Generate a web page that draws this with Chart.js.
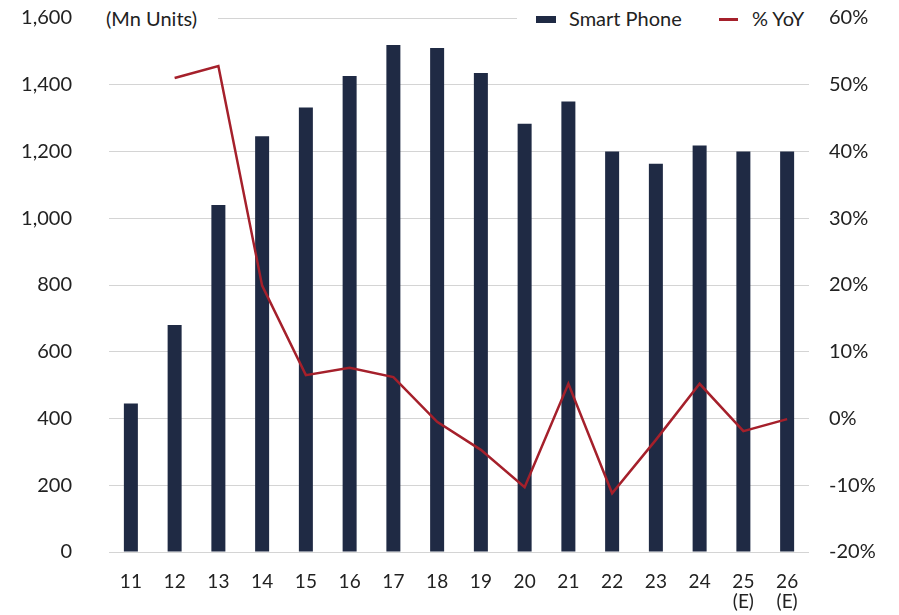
<!DOCTYPE html>
<html>
<head>
<meta charset="utf-8">
<script src="https://cdn.jsdelivr.net/npm/chart.js@4.4.1/dist/chart.umd.min.js"></script>
<style>
  body { margin: 0; background: #fff; font-family: Lato, "Noto Sans", sans-serif; }
  .wrap { position: relative; width: 899px; height: 615px; }
  .unit { position: absolute; left: 100px; top: 5px; width: 118px; height: 26px; background: #fff;
          font-size: 20px; color: #222; padding-left: 6px; box-sizing: border-box; line-height: 26px; }
  .legend { position: absolute; left: 517px; top: 5px; width: 300px; height: 26px; background: #fff;
            font-size: 20px; color: #222; line-height: 26px; }
  .legend .box { position: absolute; left: 19px; top: 11px; width: 20px; height: 7px; background: #1f2a44; }
  .legend .ln { position: absolute; left: 202px; top: 13px; width: 19px; height: 3px; background: #a5202b; }
  .legend .t1 { position: absolute; left: 52px; top: 0; }
  .legend .t2 { position: absolute; left: 235px; top: 0; }
</style>
</head>
<body>
<div class="wrap">
  <canvas id="myChart"></canvas>
  <div class="unit">(Mn Units)</div>
  <div class="legend">
    <span class="box"></span><span class="t1">Smart Phone</span>
    <span class="ln"></span><span class="t2">% YoY</span>
  </div>
</div>
<script>
/* Data */
const years = ['11', '12', '13', '14', '15', '16', '17', '18', '19', '20', '21', '22', '23', '24', ['25', '(E)'], ['26', '(E)']];
const smartPhone = [445, 680, 1040, 1246, 1332, 1426, 1519, 1510, 1435, 1283, 1350, 1200, 1163, 1218, 1200, 1200];
const yoy = [null, 51.0, 52.8, 19.9, 6.5, 7.6, 6.2, -0.5, -4.7, -10.3, 5.2, -11.2, -3.2, 5.2, -1.9, -0.1];

const navy = '#1f2a44';
const red = '#a5202b';
const font = { family: 'Lato, "Noto Sans", sans-serif', size: 20 };

var ctx = document.getElementById('myChart').getContext('2d');

var chart = new Chart(ctx, {
  data: {
    labels: years,
    datasets: [{
      type: 'line',
      label: '% YoY',
      data: yoy,
      yAxisID: 'y1',
      borderColor: red,
      borderWidth: 2.5,
      pointRadius: 0,
      tension: 0,
      order: 0,
    },
    {
      type: 'bar',
      label: 'Smart Phone',
      data: smartPhone,
      yAxisID: 'y',
      backgroundColor: navy,
      barPercentage: 0.32,
      categoryPercentage: 1,
      order: 1,
    }]
  },
  options: {
    responsive: true,
    maintainAspectRatio: false,
    animation: false,
    layout: { padding: { top: 18, left: 0, right: 0, bottom: 0 } },
    plugins: { legend: { display: false }, tooltip: { enabled: false } },
    scales: {
      x: {
        grid: { display: false },
        border: { display: false },
        ticks: { color: '#222', font: { family: font.family, size: 19, lineHeight: 1.05 }, padding: 12, maxRotation: 0, autoSkip: false },
        afterFit: function (s) { s.height = 63; },
      },
      y: {
        position: 'left',
        min: 0,
        max: 1600,
        grid: { color: '#d4d4d4', lineWidth: 1, drawTicks: false },
        border: { display: false },
        ticks: {
          stepSize: 200,
          color: '#222',
          font: font,
          padding: 37,
          callback: function (v) { return v.toLocaleString('en-US'); },
        },
        afterFit: function (s) { s.width = 109; s.paddingTop = 0; s.paddingBottom = 0; },
      },
      y1: {
        position: 'right',
        min: -20,
        max: 60,
        grid: { drawOnChartArea: false, drawTicks: false },
        border: { display: false },
        ticks: {
          stepSize: 10,
          color: '#222',
          font: font,
          padding: 20,
          callback: function (v) { return v + '%'; },
        },
        afterFit: function (s) { s.width = 90; s.paddingTop = 0; s.paddingBottom = 0; },
      },
    },
  },
});
</script>
</body>
</html>
